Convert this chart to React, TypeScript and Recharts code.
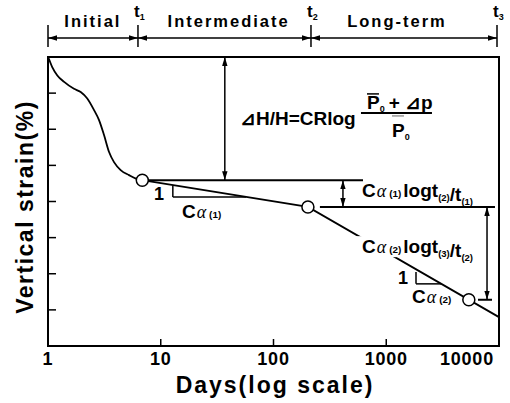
import React from 'react';
import {
  ComposedChart,
  Line,
  XAxis,
  YAxis,
  ReferenceLine,
  ReferenceDot,
  ReferenceArea,
} from 'recharts';

// curve (days, vertical strain %)
const initialDays = [1, 1.02, 1.09, 1.21, 1.39, 1.7, 1.95, 2.23, 2.56, 2.83, 3.14, 3.48, 3.85, 4.41, 5.23, 6.19, 6.86];
const initialStrain = [0, 0.06, 0.28, 0.51, 0.69, 0.88, 0.97, 1.15, 1.47, 1.74, 2.16, 2.63, 2.91, 3.13, 3.27, 3.38, 3.41];
const creepDays = [6.86, 202, 10000];
const creepStrain = [3.41, 4.15, 7.2];
const markerDays = [6.86, 202, 5400];
const markerStrain = [3.41, 4.15, 6.72];

const dayTicks = [1, 10, 100, 1000, 10000];
const strainTicks = [0, 1, 2, 3, 4, 5, 6, 7, 8];

// stages on top
const stageBounds = [1, 6.28, 215, 9600];
const stageNames = ['Initial', 'Intermediate', 'Long-term'];
const stageLabelDays = [2.5, 40, 1245];

// horizontal guide lines [strain, from day, to day]
const guideStrain = [3.41, 4.15, 6.72];
const guideFrom = [6.86, 258, 6510];
const guideTo = [622, 9210, 8670];

// vertical double arrows
const arrowDays = [37, 413, 7830];
const arrowFrom = [0, 3.41, 4.15];
const arrowTo = [3.41, 4.15, 6.72];

const toRows = (xs: number[], ys: number[]) => xs.map((x, i) => ({ x, y: ys[i] }));

const FONT = "Arial, 'Liberation Sans', sans-serif";
const SERIF = "'Liberation Serif', 'DejaVu Serif', serif";

const seg = (key: string, x1: number, y1: number, x2: number, y2: number, w = 2, arrows = false) => (
  <ReferenceLine
    key={key}
    segment={[{ x: x1, y: y1 }, { x: x2, y: y2 }]}
    ifOverflow="visible"
    shape={(p: any) => (
      <line
        x1={p.x1}
        y1={p.y1}
        x2={p.x2}
        y2={p.y2}
        stroke="#000"
        strokeWidth={w}
        markerStart={arrows ? 'url(#ah)' : undefined}
        markerEnd={arrows ? 'url(#ah)' : undefined}
      />
    )}
  />
);

const note = (key: string, x: number, y: number, render: (cx: number, cy: number) => React.ReactNode) => (
  <ReferenceDot key={key} x={x} y={y} r={0} ifOverflow="visible" shape={(p: any) => <g>{render(p.cx, p.cy)}</g>} />
);

const alpha = (n: string, size: number) => [
  <tspan key="a" fontFamily={SERIF} fontStyle="italic" fontWeight="normal" fontSize={size} dx={1}>α</tspan>,
  <tspan key="n" fontSize={size * 0.55} dx={3}>({n})</tspan>,
];

const sub = (s: string, key: string) => [
  <tspan key={key + 'a'} fontSize={9.5} dy={4}>({s})</tspan>,
  <tspan key={key + 'b'} dy={-4}></tspan>,
];

export default function App() {
  const initialRows = toRows(initialDays, initialStrain);
  const creepRows = toRows(creepDays, creepStrain);
  const markerRows = toRows(markerDays, markerStrain);

  return (
    <div style={{ fontFamily: FONT, fontWeight: 'bold' }}>
      <style>{'body{margin:0}'}</style>
      <svg width={0} height={0} style={{ position: 'absolute' }}>
        <defs>
          <marker id="ah" viewBox="0 0 10 6" refX="10" refY="3" markerWidth="9" markerHeight="5.4"
            markerUnits="userSpaceOnUse" orient="auto-start-reverse">
            <path d="M0,0 L10,3 L0,6 z" fill="#000" />
          </marker>
        </defs>
      </svg>
      <ComposedChart width={510} height={403} margin={{ top: 57, right: 11, left: 0, bottom: 0 }}>
        <XAxis
          dataKey="x"
          type="number"
          scale="log"
          domain={[1, 10000]}
          ticks={dayTicks}
          allowDataOverflow
          height={57}
          axisLine={{ stroke: '#000', strokeWidth: 2 }}
          tickLine={false}
          tickSize={0}
          tickMargin={0}
          tick={(p: any) => {
            const last = p.payload.value === 10000;
            return (
              <text x={last ? p.x + 4 : p.x} y={p.y + 19} textAnchor={last ? 'end' : 'middle'}
                fontSize={18} fontWeight="bold" letterSpacing={0.8} fill="#000">
                {p.payload.value}
              </text>
            );
          }}
          label={(p: any) => (
            <text x={275} y={393} textAnchor="middle" fontSize={23} fontWeight="bold" letterSpacing={2} fill="#000">
              Days(log scale)
            </text>
          )}
        />
        <YAxis
          dataKey="y"
          type="number"
          domain={[0, 8]}
          reversed
          ticks={strainTicks}
          allowDataOverflow
          width={48}
          axisLine={{ stroke: '#000', strokeWidth: 2 }}
          tickLine={false}
          tick={false}
          label={(p: any) => (
            <text transform="translate(33,207) rotate(-90)" textAnchor="middle" fontSize={23} fontWeight="bold"
              letterSpacing={1.5} fill="#000">
              Vertical strain(%)
            </text>
          )}
        />
        <ReferenceArea x1={1} x2={10000} y1={0} y2={8} fill="none" stroke="#000" strokeWidth={2} ifOverflow="visible" />

        {/* inward tick marks */}
        {strainTicks.slice(1, -1).map((t) => (
          <ReferenceLine key={'yt' + t} y={t} shape={(p: any) => {
            const x0 = Math.min(p.x1, p.x2);
            return <line x1={x0} x2={x0 + 8} y1={p.y1} y2={p.y1} stroke="#000" strokeWidth={1.5} />;
          }} />
        ))}
        {dayTicks.slice(1, -1).map((t) => (
          <ReferenceLine key={'xt' + t} x={t} shape={(p: any) => {
            const y0 = Math.max(p.y1, p.y2);
            return <line x1={p.x1} x2={p.x1} y1={y0} y2={y0 - 7} stroke="#000" strokeWidth={1.5} />;
          }} />
        ))}

        <Line data={initialRows} dataKey="y" type="monotone" stroke="#000" strokeWidth={1.8} dot={false} isAnimationActive={false} />
        <Line data={creepRows} dataKey="y" type="linear" stroke="#000" strokeWidth={1.8} dot={false} isAnimationActive={false} />

        {guideStrain.map((s, i) => seg('g' + i, guideFrom[i], s, guideTo[i], s, 2))}
        {arrowDays.map((d, i) => seg('a' + i, d, arrowFrom[i], d, arrowTo[i], 1.5, true))}

        {/* slope triangles */}
        {seg('t1v', 12.8, 3.55, 12.8, 3.875, 1.5)}
        {seg('t1h', 12.8, 3.875, 57, 3.875, 1.5)}
        {seg('t2v', 1836, 5.95, 1836, 6.28, 1.5)}
        {seg('t2h', 1836, 6.28, 3076, 6.28, 1.5)}

        {/* stage bar on top */}
        {stageBounds.map((b, i) => seg('sb' + i, b, -0.886, b, -0.277, 1.5))}
        {stageNames.map((_, i) => seg('sa' + i, stageBounds[i], -0.526, stageBounds[i + 1], -0.526, 1.5, true))}
        {stageNames.map((name, i) =>
          note('sn' + i, stageLabelDays[i], -0.83, (cx, cy) => (
            <text x={cx} y={cy} textAnchor="middle" fontSize={16.5} fontWeight="bold" letterSpacing={2} fill="#000">{name}</text>
          ))
        )}
        {stageBounds.slice(1).map((b, i) =>
          note('tn' + i, b, -1.11, (cx, cy) => (
            <text x={cx - 4} y={cy} fontSize={17} fontWeight="bold" fill="#000">
              t<tspan fontSize={9} dy={3}>{i + 1}</tspan>
            </text>
          ))
        )}

        {/* formula */}
        {note('f', 48.4, 1.88, (cx, cy) => (
          <g fill="#000">
            <text x={cx + 2} y={cy} fontSize={19} fontWeight="bold">⊿H/H=CRlog</text>
            <line x1={cx + 123} x2={cx + 194} y1={cy - 12} y2={cy - 12} stroke="#000" strokeWidth={2} />
            <text x={cx + 129} y={cy - 16} fontSize={19} fontWeight="bold">
              P<tspan fontSize={9} dy={3}>0</tspan><tspan dy={-3} dx={4}>+ ⊿p</tspan>
            </text>
            <line x1={cx + 129} x2={cx + 141} y1={cy - 31} y2={cy - 31} stroke="#000" strokeWidth={1.5} />
            <text x={cx + 154} y={cy + 12} fontSize={19} fontWeight="bold">
              P<tspan fontSize={9} dy={3}>0</tspan>
            </text>
            <line x1={cx + 154} x2={cx + 166} y1={cy - 9} y2={cy - 9} stroke="#999" strokeWidth={1.5} />
          </g>
        ))}

        {note('c1', 610, 3.875, (cx, cy) => (
          <text x={cx} y={cy} fontSize={19} fontWeight="bold" fill="#000">
            C{alpha('1', 18)}<tspan dx={2}>logt</tspan>{sub('2', 's2')}/t{sub('1', 's1')}
          </text>
        ))}
        {note('c2', 610, 5.43, (cx, cy) => (
          <g>
            <rect x={cx - 10} y={cy - 17} width={128} height={21} fill="#fff" />
            <text x={cx} y={cy} fontSize={19} fontWeight="bold" fill="#000">
              C{alpha('2', 18)}<tspan dx={2}>logt</tspan>{sub('3', 's3')}/t{sub('2', 's4')}
            </text>
          </g>
        ))}
        {note('one1', 10.7, 3.96, (cx, cy) => (
          <text x={cx} y={cy} textAnchor="end" fontSize={18} fontWeight="bold" fill="#000">1</text>
        ))}
        {note('ca1', 15.4, 4.46, (cx, cy) => (
          <text x={cx} y={cy} fontSize={19} fontWeight="bold" fill="#000">C{alpha('1', 18)}</text>
        ))}
        {note('one2', 1560, 6.28, (cx, cy) => (
          <text x={cx} y={cy} textAnchor="end" fontSize={18} fontWeight="bold" fill="#000">1</text>
        ))}
        {note('ca2', 1690, 6.81, (cx, cy) => (
          <text x={cx} y={cy} fontSize={19} fontWeight="bold" fill="#000">C{alpha('2', 18)}</text>
        ))}

        <Line
          data={markerRows}
          dataKey="y"
          stroke="none"
          dot={{ r: 6, fill: '#fff', stroke: '#000', strokeWidth: 1.5 }}
          isAnimationActive={false}
        />
      </ComposedChart>
    </div>
  );
}
